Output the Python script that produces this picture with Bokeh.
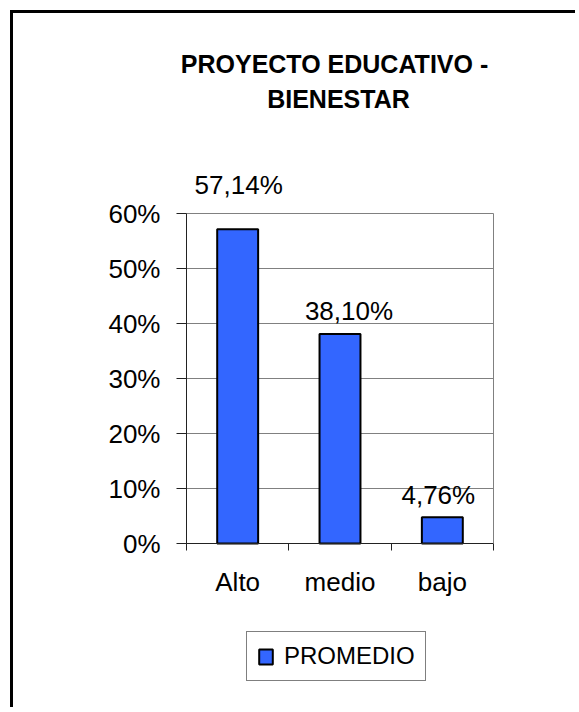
from bokeh.plotting import figure
from bokeh.models import (Range1d, FixedTicker, NumeralTickFormatter, ColumnDataSource,
                          Legend, LegendItem, Label, LinearAxis)
from bokeh.embed import file_html
from bokeh.resources import INLINE
from bokeh.core.properties import value

# ---- data ----
title_lines = ["PROYECTO EDUCATIVO -", "BIENESTAR"]
categories = ["Alto", "medio", "bajo"]
promedio = [0.5714, 0.3810, 0.0476]
y_ticks = [0.0, 0.1, 0.2, 0.3, 0.4, 0.5, 0.6]
series_name = "PROMEDIO"

# ---- style / layout ----
FONT = "Liberation Sans"
BAR_COLOR = "#3366FF"
GRID = "#808080"
AXIS = "#222222"
label_dx = [1, 9, -4]
label_dy = [-44, -23, -22]

W, H = 565, 697
ORIGIN = 13                       # canvas origin on the page (margin 10 + border 3)
PA_LEFT, PA_RIGHT = 186, 493      # plot area on the page
PA_TOP, PA_BOTTOM = 213, 543

n = len(categories)
ymax = y_ticks[-1]
sx = (PA_RIGHT - PA_LEFT) / n
sy = (PA_BOTTOM - PA_TOP) / ymax
x0 = -(PA_LEFT - ORIGIN) / sx
x1 = n + (ORIGIN + W - PA_RIGHT) / sx
y1 = ymax + (PA_TOP - ORIGIN) / sy
y0 = -(ORIGIN + H - PA_BOTTOM) / sy


def page_x(px):
    return (px - PA_LEFT) / sx


def page_y(py):
    return (PA_BOTTOM - py) / sy


p = figure(width=W, height=H, output_backend="svg", toolbar_location=None,
           title_location=None,
           x_range=Range1d(x0, x1), y_range=Range1d(y0, y1),
           min_border=0, min_border_left=0, min_border_right=0,
           min_border_top=0, min_border_bottom=0,
           background_fill_color="white", border_fill_color="white",
           styles={"border-left": "3px solid black", "border-top": "3px solid black",
                   "margin-left": "10px", "margin-top": "10px"})
p.outline_line_color = None
p.xgrid.visible = False
p.ygrid.visible = False

xs = [i + 0.5 for i in range(n)]
labels = [("%.2f%%" % (v * 100)).replace(".", ",") for v in promedio]
src = ColumnDataSource(dict(x=xs, top=promedio, label=labels, dx=label_dx, dy=label_dy))

# grid lines (plot area only)
p.segment(x0=[0] * len(y_ticks), x1=[n] * len(y_ticks), y0=y_ticks, y1=y_ticks,
          line_color=GRID, line_width=1)

bars = p.vbar(x="x", top="top", width=0.4, bottom=0, source=src,
              fill_color=BAR_COLOR, line_color="black", line_width=2)
p.text(x="x", y="top", text="label", x_offset="dx", y_offset="dy", source=src,
       text_align="center", text_baseline="alphabetic",
       text_font=value(FONT), text_font_size="26px", text_color="black")

# y axis (left)
yax = p.left[0]
yax.fixed_location = 0
yax.bounds = (y_ticks[0], ymax)
yax.ticker = FixedTicker(ticks=y_ticks)
yax.formatter = NumeralTickFormatter(format="0%")
yax.major_label_text_font = FONT
yax.major_label_text_font_size = "26px"
yax.major_label_text_color = "black"
yax.major_tick_out = 10
yax.major_tick_in = 0
yax.minor_tick_out = 0
yax.minor_tick_in = 0
yax.major_label_standoff = 16
yax.axis_line_color = AXIS
yax.major_tick_line_color = AXIS

# right border of plot area (grey)
rax = LinearAxis(fixed_location=n, bounds=(y_ticks[0], ymax), ticker=FixedTicker(ticks=[]),
                 axis_line_color=GRID, major_tick_line_color=None, minor_tick_line_color=None,
                 major_label_text_font_size="0px")
p.add_layout(rax, "right")

# x axis
xax = p.below[0]
xax.fixed_location = 0
xax.bounds = (0, n)
xax.ticker = FixedTicker(ticks=xs, minor_ticks=list(range(n + 1)))
xax.major_label_overrides = {x: c for x, c in zip(xs, categories)}
xax.major_label_text_font = FONT
xax.major_label_text_font_size = "26px"
xax.major_label_text_color = "black"
xax.major_tick_out = 0
xax.major_tick_in = 0
xax.minor_tick_out = 7
xax.minor_tick_in = 0
xax.minor_tick_line_color = AXIS
xax.axis_line_color = AXIS
xax.major_label_standoff = 16

# title (two lines)
for txt, cx, base in zip(title_lines, [334, 338], [63, 98]):
    p.add_layout(Label(x=page_x(cx), y=page_y(base), text=txt,
                       text_align="center", text_baseline="alphabetic",
                       text_font=FONT, text_font_style="bold", text_font_size="25px",
                       text_color="black"))

legend = Legend(items=[LegendItem(label=series_name, renderers=[bars])],
                location=(246 - ORIGIN, ORIGIN + H - 681), orientation="vertical",
                label_text_font=FONT, label_text_font_size="24px", label_text_color="black",
                glyph_width=17, glyph_height=19, label_standoff=10, padding=10, margin=0,
                border_line_color="black", border_line_width=1,
                background_fill_color="white", background_fill_alpha=1)
p.add_layout(legend, "center")

open("out.html", "w").write(file_html(p, INLINE))
